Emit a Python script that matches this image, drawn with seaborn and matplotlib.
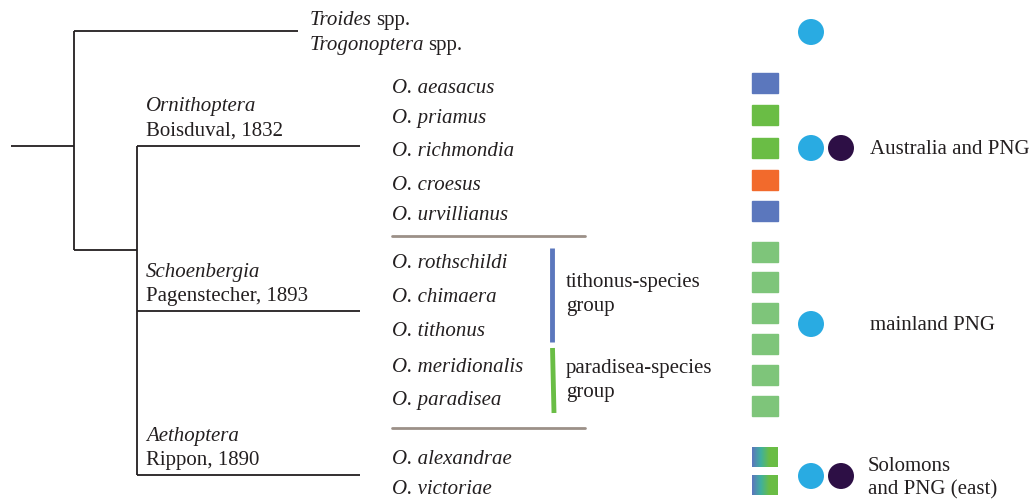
import numpy as np
import pandas as pd
import seaborn as sns
import matplotlib.pyplot as plt
from matplotlib.patches import Rectangle
from matplotlib.colors import LinearSegmentedColormap

# species labels and row positions (pixel rows of the original figure)
species = ['O. aeasacus', 'O. priamus', 'O. richmondia', 'O. croesus', 'O. urvillianus',
           'O. rothschildi', 'O. chimaera', 'O. tithonus', 'O. meridionalis', 'O. paradisea',
           'O. alexandrae', 'O. victoriae']
species_y = [86, 116, 150, 183, 213, 261, 295, 330, 365, 398, 457, 488]

# coloured boxes (one per row of the box column)
box_y = [83, 115, 148, 180, 211, 252, 282, 313, 344, 375, 406, 457, 485]
box_col = ['#5b77bd', '#6abd45', '#6abd45', '#f26a2c', '#5b77bd',
           '#7ec57a', '#7ec57a', '#7ec57a', '#7ec57a', '#7ec57a', '#7ec57a',
           'grad', 'grad']

# distribution circles
circles = pd.DataFrame({
    'x': [811, 811, 841, 811, 811, 841],
    'y': [32, 148, 148, 324, 476, 476],
    'kind': ['light', 'light', 'dark', 'light', 'light', 'dark'],
})
regions = ['Australia and PNG', 'mainland PNG', 'Solomons\nand PNG (east)']
region_x = [870, 870, 868]
region_y = [148, 324, 476]

outgroups = ['Troides', 'Trogonoptera']
outgroup_y = [18, 43]

genera = [('Ornithoptera', 'Boisduval, 1832', 104),
          ('Schoenbergia', 'Pagenstecher, 1893', 270),
          ('Aethoptera', 'Rippon, 1890', 434)]

sns.set_theme(style='white')
plt.rcParams['font.family'] = ['Liberation Serif', 'DejaVu Serif']

fig = plt.figure(figsize=(10.32, 4.99), dpi=100)
ax = fig.add_axes([0, 0, 1, 1])
ax.set_xlim(0, 1032)
ax.set_ylim(499, 0)
ax.axis('off')

fs = 15
lc = '#231f20'
lw = 1.3
dy = 2  # text sits a touch lower than its row centre

# tree
tree = [((11, 74), (146, 146)), ((74, 74), (31, 250)), ((74, 298), (31, 31)),
        ((74, 137), (250, 250)), ((137, 137), (146, 475)),
        ((137, 360), (146, 146)), ((137, 360), (311, 311)), ((137, 360), (475, 475))]
for xs, ys in tree:
    ax.plot(xs, ys, color=lc, lw=lw, solid_capstyle='butt')

renderer = fig.canvas.get_renderer()
for name, y in zip(outgroups, outgroup_y):
    t = ax.text(310, y + dy, name, style='italic', fontsize=fs, va='center', color=lc)
    bb = t.get_window_extent(renderer).transformed(ax.transData.inverted())
    ax.text(bb.x1 + 4, y + dy, 'spp.', fontsize=fs, va='center', color=lc)

for name, auth, y in genera:
    ax.text(146, y + dy, name, style='italic', fontsize=fs, va='center', color=lc)
    ax.text(146, y + 25 + dy, auth, fontsize=fs, va='center', color=lc)

for name, y in zip(species, species_y):
    ax.text(392, y + dy, name, style='italic', fontsize=fs, va='center', color=lc)

# separators between genera
for y in [236, 428]:
    ax.plot([392, 585], [y, y], color='#9c9088', lw=2)

# species-group bars
ax.plot([552, 552], [248, 342], color='#5b77bd', lw=3.5, solid_capstyle='butt')
ax.plot([552.5, 554], [348, 413], color='#6abd45', lw=3.5, solid_capstyle='butt')
ax.text(566, 281 + dy, 'tithonus-species', fontsize=fs, va='center', color=lc)
ax.text(566, 305 + dy, 'group', fontsize=fs, va='center', color=lc)
ax.text(566, 366 + dy, 'paradisea-species', fontsize=fs, va='center', color=lc)
ax.text(566, 390 + dy, 'group', fontsize=fs, va='center', color=lc)

# boxes
grad = LinearSegmentedColormap.from_list('g', ['#5b77bd', '#3fb0a0', '#6abd45', '#6abd45'])
for y, c in zip(box_y, box_col):
    if c == 'grad':
        ax.imshow(np.linspace(0, 1, 50)[None, :], cmap=grad, aspect='auto',
                  extent=(752, 778, y + 10, y - 10), zorder=2)
    else:
        ax.add_patch(Rectangle((752, y - 10), 26, 20, color=c, zorder=2))
ax.set_xlim(0, 1032)
ax.set_ylim(499, 0)

# circles
sns.scatterplot(data=circles, x='x', y='y', hue='kind',
                palette={'light': '#29abe2', 'dark': '#2d0f45'},
                s=350, linewidth=0, legend=False, ax=ax)
ax.set_xlabel('')
ax.set_ylabel('')

for r, x, y in zip(regions, region_x, region_y):
    ax.text(x, y + dy, r, fontsize=fs, va='center', linespacing=1.3, color=lc)

fig.savefig('out.png', dpi=100)
